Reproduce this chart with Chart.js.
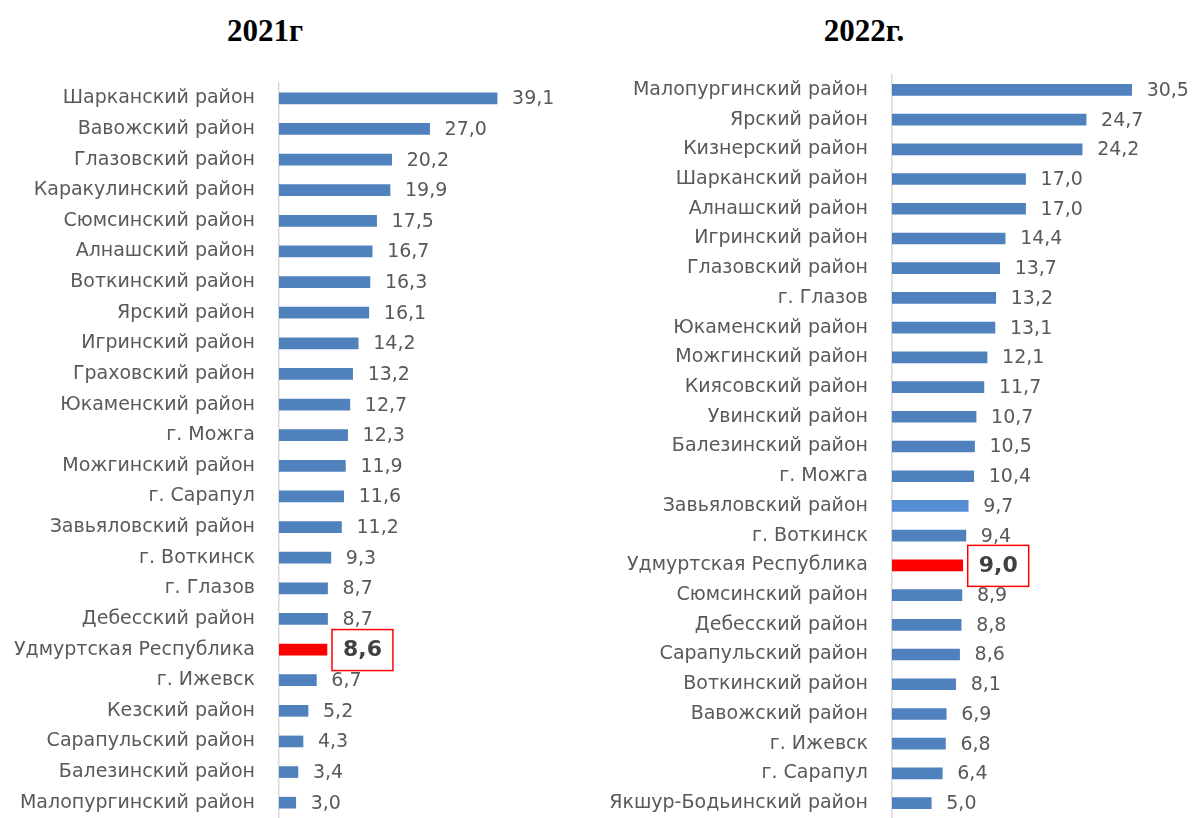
<!DOCTYPE html>
<html>
<head>
<meta charset="utf-8">
<script src="https://cdn.jsdelivr.net/npm/chart.js@4.4.0/dist/chart.umd.min.js"></script>
<style>
  body { margin: 0; background: #fff; width: 1192px; height: 818px; position: relative; overflow: hidden; }
  .title { position: absolute; font-family: "Liberation Serif", serif; font-weight: bold; font-size: 31px; color: #000; transform: translateX(-50%); }
  canvas { position: absolute; top: 0; }
</style>
</head>
<body>
<div class="title" style="left:265px; top:13px;">2021г</div>
<div class="title" style="left:864px; top:13px;">2022г.</div>
<canvas id="chart2021" width="590" height="818" style="left:0;"></canvas>
<canvas id="chart2022" width="596" height="818" style="left:596px;"></canvas>
<script>
// 2021
const labels2021 = ['Шарканский район', 'Вавожский район', 'Глазовский район', 'Каракулинский район',
  'Сюмсинский район', 'Алнашский район', 'Воткинский район', 'Ярский район', 'Игринский район',
  'Граховский район', 'Юкаменский район', 'г. Можга', 'Можгинский район', 'г. Сарапул',
  'Завьяловский район', 'г. Воткинск', 'г. Глазов', 'Дебесский район', 'Удмуртская Республика',
  'г. Ижевск', 'Кезский район', 'Сарапульский район', 'Балезинский район', 'Малопургинский район'];
const values2021 = [39.1, 27.0, 20.2, 19.9, 17.5, 16.7, 16.3, 16.1, 14.2, 13.2, 12.7, 12.3, 11.9, 11.6,
  11.2, 9.3, 8.7, 8.7, 8.6, 6.7, 5.2, 4.3, 3.4, 3.0];

// 2022
const labels2022 = ['Малопургинский район', 'Ярский район', 'Кизнерский район', 'Шарканский район',
  'Алнашский район', 'Игринский район', 'Глазовский район', 'г. Глазов', 'Юкаменский район',
  'Можгинский район', 'Киясовский район', 'Увинский район', 'Балезинский район', 'г. Можга',
  'Завьяловский район', 'г. Воткинск', 'Удмуртская Республика', 'Сюмсинский район', 'Дебесский район',
  'Сарапульский район', 'Воткинский район', 'Вавожский район', 'г. Ижевск', 'г. Сарапул',
  'Якшур-Бодьинский район'];
const values2022 = [30.5, 24.7, 24.2, 17.0, 17.0, 14.4, 13.7, 13.2, 13.1, 12.1, 11.7, 10.7, 10.5, 10.4,
  9.7, 9.4, 9.0, 8.9, 8.8, 8.6, 8.1, 6.9, 6.8, 6.4, 5.0];

const REPUBLIC = 'Удмуртская Республика';
const FONT = '"DejaVu Sans", sans-serif';
const TEXT = '#595959';

//value labels drawn after the bar end
const valueLabels = {
  id: 'valueLabels',
  afterDatasetsDraw(chart) {
    const { ctx } = chart;
    const meta = chart.getDatasetMeta(0);
    const labels = chart.data.labels;
    ctx.save();
    ctx.textBaseline = 'middle';
    meta.data.forEach((bar, i) => {
      const txt = chart.data.datasets[0].data[i].toFixed(1).replace('.', ',');
      const x = bar.x + 15;
      const y = bar.y + 1;
      if (labels[i] === REPUBLIC) {
        ctx.font = 'bold 22px ' + FONT;
        ctx.fillStyle = '#404040';
        const w = ctx.measureText(txt).width;
        ctx.fillText(txt, x + 1, y);
        ctx.strokeStyle = '#ff0000';
        ctx.lineWidth = 1.5;
        ctx.strokeRect(x - 10, y - 21, w + 22, 41);
      } else {
        ctx.font = '19px ' + FONT;
        ctx.fillStyle = TEXT;
        ctx.fillText(txt, x, y);
      }
    });
    ctx.restore();
  }
};

function makeChart(id, labels, values, xMax, axisWidth, padTop, padRight, lightBar) {
  return new Chart(document.getElementById(id), {
    type: 'bar',
    data: {
      labels: labels,
      datasets: [{
        data: values,
        backgroundColor: labels.map(l => l === REPUBLIC ? '#ff0000' : (l === lightBar ? '#558ed5' : '#4f81bd')),
        barThickness: 11,
        borderWidth: 0
      }]
    },
    plugins: [valueLabels],
    options: {
      indexAxis: 'y',
      responsive: false,
      animation: false,
      events: [],
      layout: { padding: { top: padTop, bottom: 0, right: padRight, left: 0 } },
      plugins: { legend: { display: false }, tooltip: { enabled: false } },
      scales: {
        x: { display: false, min: 0, max: xMax },
        y: {
          grid: { display: false, drawTicks: false },
          border: { display: true, color: '#d9d9d9', width: 1.5 },
          ticks: { color: TEXT, font: { family: FONT, size: 19 }, padding: 24, autoSkip: false },
          afterFit(scale) {
            scale.width = axisWidth;
            // no extra room for the first/last label, the axis runs to the edge
            scale.paddingTop = 0;
            scale.paddingBottom = 0;
          }
        }
      }
    }
  });
}

makeChart('chart2021', labels2021, values2021, 45, 279, 83, 60, null);
makeChart('chart2022', labels2022, values2022, 35, 296, 75, 25, 'Завьяловский район');
</script>
</body>
</html>
